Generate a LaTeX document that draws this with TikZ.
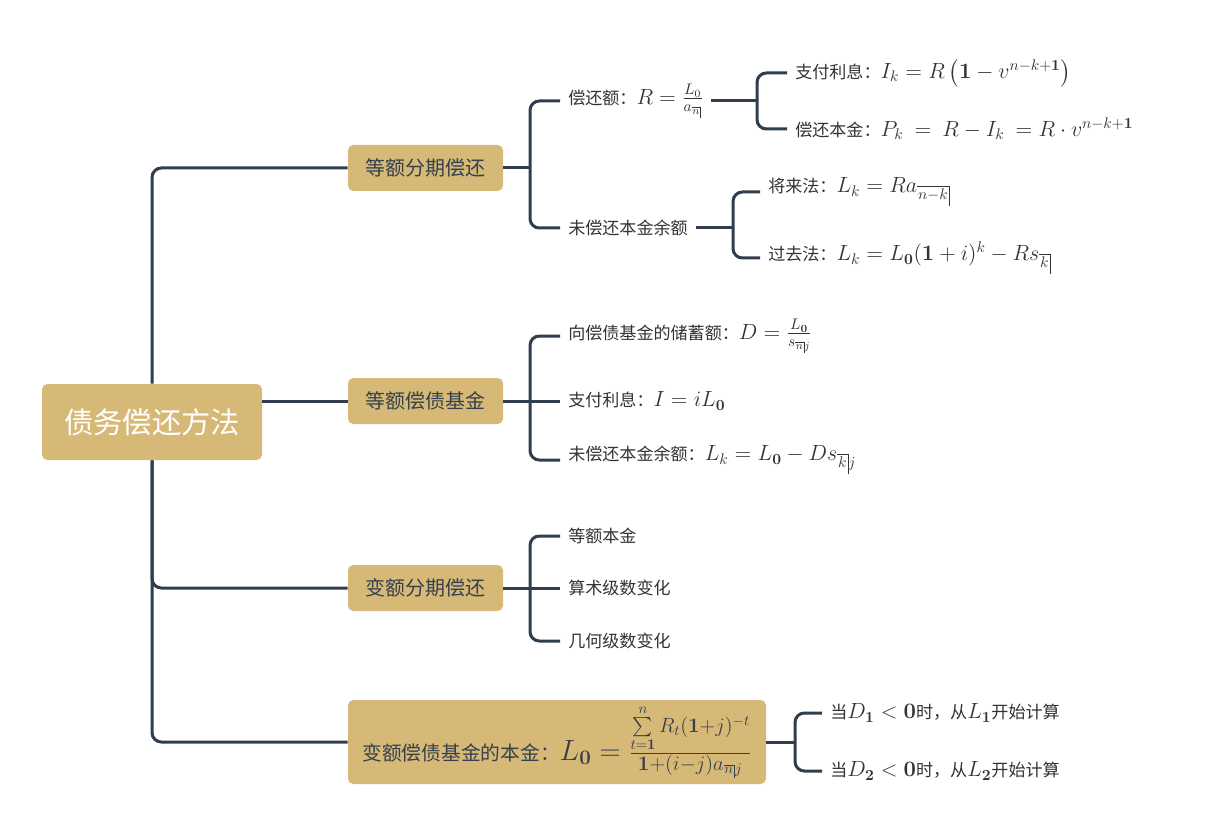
\RequirePackage{fix-cm}
\documentclass[tikz,border=0pt]{standalone}
\usepackage{amsmath}
\usepackage[no-math]{fontspec}
\setmainfont{Noto Sans CJK SC}
\usetikzlibrary{calc}
\definecolor{gold}{HTML}{D6B976}
\definecolor{navy}{HTML}{2F3D4E}
\definecolor{txt}{HTML}{333333}
\definecolor{boxtxt}{HTML}{36404D}
\makeatletter
\newcommand{\angl}[1]{\mathpalette\angl@{#1}}
\newcommand{\angl@}[2]{\setbox0\hbox{$\m@th#1\overline{\mkern1mu#2\mkern2mu}$}\copy0\kern-0.45pt\vrule height\dimexpr\ht0-0.3pt\relax depth 0.5\ht0 width 0.5pt\relax}
\makeatother
\newcommand{\mth}[1]{{\fontsize{16.5pt}{19pt}\selectfont$#1$}}
\begin{document}
\begin{tikzpicture}[x=0.75pt,y=-0.75pt,
 conn/.style={draw=navy,line width=2.25pt,rounded corners=7pt},
 box/.style={fill=gold,rounded corners=4pt,text=boxtxt,font=\fontsize{15pt}{18pt}\selectfont,minimum width=116.25pt,minimum height=34.5pt,inner sep=0pt},
 leaf/.style={anchor=west,text=txt,font=\fontsize{12.8pt}{15pt}\selectfont,inner xsep=6pt,inner ysep=1pt}]
\useasboundingbox (0,0) rectangle (1212,830);
% main boxes
\node[box,minimum width=165pt,minimum height=57pt,text=white,font=\fontsize{22pt}{26pt}\selectfont] (root) at (152,422) {债务偿还方法};
\node[box] (b1) at (425.5,168) {等额分期偿还};
\node[box] (b2) at (425.5,401) {等额偿债基金};
\node[box] (b3) at (425.5,588) {变额分期偿还};
\node[box,minimum width=313.5pt,minimum height=63pt,font=\fontsize{14.8pt}{17pt}\selectfont] (b4) at (557,742) {变额偿债基金的本金：{\fontsize{22pt}{25pt}\selectfont$L_{\mathbf 0}=\frac{\sum\limits_{t=\mathbf 1}^{n}R_t(\mathbf 1+j)^{-t}}{\mathbf 1+(i-j)a_{\angl{n}j}}$}};
% level 2
\node[leaf] (c11) at (560,101) {偿还额：\mth{R=\frac{L_{0}}{a_{\angl{n}}}}};
\node[leaf] (c12) at (560,228) {未偿还本金余额};
\node[leaf] (c21) at (560,336) {向偿债基金的储蓄额：\mth{D=\frac{L_{\mathbf 0}}{s_{\angl{n}j}}}};
\node[leaf] (c22) at (560,401) {支付利息：\mth{I=iL_{\mathbf 0}}};
\node[leaf] (c23) at (560,460) {未偿还本金余额：\mth{L_k=L_{\mathbf 0}-Ds_{\angl{k}j}}};
\node[leaf] (c31) at (560,536) {等额本金};
\node[leaf] (c32) at (560,588) {算术级数变化};
\node[leaf] (c33) at (560,641) {几何级数变化};
% level 3
\node[leaf] (d11) at (787,73) {支付利息：\mth{I_k=R\left(\mathbf 1-v^{n-k+\mathbf 1}\right)}};
\node[leaf] (d12) at (787,129) {偿还本金：\mth{P_k\ =\ R-I_k\ =R\cdot v^{n-k+\mathbf 1}}};
\node[leaf] (d21) at (760,192) {将来法：\mth{L_k=Ra_{\angl{n-k}}}};
\node[leaf] (d22) at (760,258) {过去法：\mth{L_k=L_{\mathbf 0}(\mathbf 1+i)^k-Rs_{\angl{k}}}};
\node[leaf] (e1) at (822,713) {当\mth{D_{\mathbf 1}<\mathbf 0}时，从\mth{L_{\mathbf 1}}开始计算};
\node[leaf] (e2) at (822,771) {当\mth{D_{\mathbf 2}<\mathbf 0}时，从\mth{L_{\mathbf 2}}开始计算};
% junction points of the brackets
\coordinate (j1) at ($(b1.east -| c11.west)+(-30,0)$);
\coordinate (j11) at ($(c11.east -| d11.west)+(-30,0)$);
\coordinate (j12) at ($(c12.east -| d21.west)+(-27,0)$);
\coordinate (j2) at ($(b2.east -| c21.west)+(-30,0)$);
\coordinate (j3) at ($(b3.east -| c31.west)+(-30,0)$);
\coordinate (j4) at ($(b4.east -| e1.west)+(-27,0)$);
% trunk
\draw[conn] (root.north) |- (b1.west);
\draw[conn] (root.east |- b2.west) -- (b2.west);
\draw[conn] (root.south) |- (b3.west);
\draw[conn] (root.south) |- (b4.west);
% b1 branches
\draw[conn] (b1.east) -- (j1);
\draw[conn] (j1) |- (c11.west);
\draw[conn] (j1) |- (c12.west);
\draw[conn] (c11.east) -- (j11);
\draw[conn] (j11) |- (d11.west);
\draw[conn] (j11) |- (d12.west);
\draw[conn] (c12.east) -- (j12);
\draw[conn] (j12) |- (d21.west);
\draw[conn] (j12) |- (d22.west);
% b2 branches
\draw[conn] (b2.east) -- (c22.west);
\draw[conn] (j2) |- (c21.west);
\draw[conn] (j2) |- (c23.west);
% b3 branches
\draw[conn] (b3.east) -- (c32.west);
\draw[conn] (j3) |- (c31.west);
\draw[conn] (j3) |- (c33.west);
% b4 branches
\draw[conn] (b4.east) -- (j4);
\draw[conn] (j4) |- (e1.west);
\draw[conn] (j4) |- (e2.west);
\end{tikzpicture}
\end{document}
